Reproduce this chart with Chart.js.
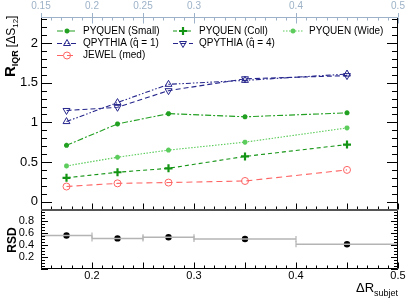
<!DOCTYPE html>
<html>
<head>
<meta charset="utf-8">
<script src="https://cdn.jsdelivr.net/npm/chart.js@4.4.1/dist/chart.umd.min.js"></script>
<style>
  html, body { margin: 0; padding: 0; background: #fff; }
  #wrap { width: 415px; height: 300px; }
</style>
</head>
<body>
<div id="wrap"><canvas id="chart" width="415" height="300"></canvas></div>
<script>
// subjet distance bins (centres and edges)
const dR = [0.175, 0.225, 0.275, 0.35, 0.45];
const binEdges = [0.15, 0.2, 0.25, 0.3, 0.4, 0.5];

// R_IQR per model
const pyquenSmall = [0.71, 0.98, 1.11, 1.07, 1.12];
const pyquenColl  = [0.30, 0.37, 0.42, 0.57, 0.72];
const pyquenWide  = [0.45, 0.56, 0.65, 0.75, 0.93];
const qpythia1    = [1.01, 1.25, 1.48, 1.53, 1.61];
const qpythia4    = [1.15, 1.19, 1.40, 1.55, 1.59];
const jewelMed    = [0.19, 0.23, 0.24, 0.26, 0.40];

// relative standard deviation (lower panel)
const rsd = [0.56, 0.51, 0.53, 0.50, 0.41];

const topTickLabels = [0.15, 0.2, 0.25, 0.3, 0.4, 0.5];
const bottomTickLabels = [0.2, 0.3, 0.4, 0.5];
const rsdTickLabels = [0.2, 0.4, 0.6, 0.8];

const FONT = '"Liberation Sans", Arial, Helvetica, sans-serif';
const green = '#22a022';
const greenDark = '#149414';
const greenLight = '#5ccc5c';
const navy = '#25258c';
const salmon = '#ff6464';
const steel = '#9db2c8';

function pts(ys) {
    return ys.map((v, i) => ({ x: dR[i], y: v }));
}

function lineSet(label, ys, color, dash, style) {
    return Object.assign({
        label: label,
        data: pts(ys),
        yAxisID: 'y',
        borderColor: color,
        backgroundColor: color,
        pointBorderColor: color,
        pointBackgroundColor: color,
        borderWidth: 1.1,
        borderDash: dash,
        pointRadius: 2.5,
        pointBorderWidth: 1.2,
        fill: false,
        tension: 0
    }, style);
}

const datasets = [
    lineSet('PYQUEN (Small)', pyquenSmall, green, [6, 2, 2, 2], { pointStyle: 'star', pointBorderWidth: 1.6 }),
    lineSet('PYQUEN (Coll)', pyquenColl, greenDark, [4, 3], { pointStyle: 'cross', pointRadius: 4, pointBorderWidth: 2.2 }),
    lineSet('PYQUEN (Wide)', pyquenWide, greenLight, [1.5, 1.5], { pointStyle: 'star', pointBorderWidth: 1.6 }),
    lineSet('QPYTHIA (q\u0302 = 1)', qpythia1, navy, [5, 2, 1.5, 2, 1.5, 2], { pointStyle: 'triangle', pointRadius: 4, pointBackgroundColor: 'rgba(0,0,0,0)', pointBorderWidth: 1 }),
    lineSet('QPYTHIA (q\u0302 = 4)', qpythia4, navy, [5, 3], { pointStyle: 'triangle', pointRotation: 180, pointRadius: 4, pointBackgroundColor: 'rgba(0,0,0,0)', pointBorderWidth: 1 }),
    lineSet('JEWEL (med)', jewelMed, salmon, [6, 4], { pointStyle: 'circle', pointRadius: 3.5, pointBackgroundColor: 'rgba(0,0,0,0)', pointBorderWidth: 1 })
];

// horizontal bin-width bars in the RSD panel
rsd.forEach((v, i) => {
    datasets.push({
        label: 'bin' + i,
        data: [{ x: binEdges[i], y: v }, { x: binEdges[i + 1], y: v }],
        yAxisID: 'yR',
        borderColor: '#b4b4b4',
        borderWidth: 1.5,
        pointStyle: 'line',
        pointRotation: 90,
        pointRadius: 3,
        pointBorderColor: '#b4b4b4',
        pointBorderWidth: 1.2
    });
});
datasets.push({
    label: 'RSD',
    data: rsd.map((v, i) => ({ x: dR[i], y: v })),
    yAxisID: 'yR',
    showLine: false,
    pointStyle: 'circle',
    pointRadius: 3.2,
    pointBackgroundColor: '#000',
    pointBorderColor: '#000',
    pointBorderWidth: 0
});

function near(v, list) {
    return list.some(t => Math.abs(t - v) < 1e-6);
}

function drawVTicks(ctx, scale, xl, xr, step, every, lenMaj, lenMin) {
    const k0 = Math.ceil(scale.min / step - 1e-6), k1 = Math.floor(scale.max / step + 1e-6);
    for (let k = k0; k <= k1; k++) {
        const py = Math.round(scale.getPixelForValue(k * step)) + 0.5;
        const len = (k % every === 0) ? lenMaj : lenMin;
        ctx.beginPath();
        ctx.moveTo(xl, py); ctx.lineTo(xl + len, py);
        ctx.moveTo(xr, py); ctx.lineTo(xr - len, py);
        ctx.stroke();
    }
}

function drawHTicks(ctx, scale, y0, dir, step, isMajor, lenMaj, lenMin) {
    const k0 = Math.ceil(scale.min / step - 1e-6), k1 = Math.floor(scale.max / step + 1e-6);
    for (let k = k0; k <= k1; k++) {
        const v = k * step;
        const px = Math.round(scale.getPixelForValue(v)) + 0.5;
        const len = isMajor(v) ? lenMaj : lenMin;
        ctx.beginPath();
        ctx.moveTo(px, y0); ctx.lineTo(px, y0 + dir * len);
        ctx.stroke();
    }
}

const frame = {
    id: 'frame',
    afterDraw(chart) {
        const ctx = chart.ctx;
        const { x, xTop, y, yR } = chart.scales;
        const L = chart.chartArea.left, R = chart.chartArea.right;
        ctx.save();
        ctx.lineWidth = 1;
        ctx.strokeStyle = '#000';

        // ticks on the y axes, inside the frame
        drawVTicks(ctx, y, L, R, 0.1, 5, 11, 6);
        drawVTicks(ctx, yR, L, R, 0.05, 4, 7, 4);

        // x ticks
        const isMaj = v => Math.abs(Math.round(v * 20) - v * 20) < 1e-6;
        drawHTicks(ctx, x, Math.round(y.bottom) - 0.5, -1, 0.01, isMaj, 6, 3);
        drawHTicks(ctx, x, Math.round(yR.bottom) - 0.5, -1, 0.01, isMaj, 6, 3);
        ctx.strokeStyle = steel;
        drawHTicks(ctx, xTop, Math.round(y.top) + 0.5, 1, 0.01, v => near(v, topTickLabels), 6, 3);
        ctx.beginPath();
        topTickLabels.forEach(v => {
            const px = Math.round(xTop.getPixelForValue(v)) + 0.5;
            ctx.moveTo(px, y.top); ctx.lineTo(px, y.top - 4);
        });
        ctx.stroke();

        // frame
        ctx.strokeStyle = '#000';
        ctx.beginPath();
        ctx.moveTo(L + 0.5, Math.round(y.top) + 0.5);
        ctx.lineTo(L + 0.5, Math.round(yR.bottom) - 0.5);
        ctx.lineTo(R - 0.5, Math.round(yR.bottom) - 0.5);
        ctx.lineTo(R - 0.5, Math.round(y.top) + 0.5);
        ctx.stroke();
        ctx.strokeStyle = steel;
        ctx.beginPath();
        ctx.moveTo(L, Math.round(y.top) + 0.5);
        ctx.lineTo(R, Math.round(y.top) + 0.5);
        ctx.stroke();
        ctx.strokeStyle = '#555';
        ctx.lineWidth = 2;
        ctx.beginPath();
        ctx.moveTo(L, Math.round(y.bottom));
        ctx.lineTo(R, Math.round(y.bottom));
        ctx.stroke();

        // legend, built from the dataset styles
        const cols = [57, 173, 283], rows = [31, 43.5, 55.5];
        const slots = [[0, 0], [1, 0], [2, 0], [0, 1], [1, 1], [0, 2]];
        slots.forEach((s, i) => {
            const ds = chart.data.datasets[i];
            const lx = cols[s[0]], ly = rows[s[1]];
            ctx.save();
            ctx.strokeStyle = ds.borderColor;
            ctx.lineWidth = ds.borderWidth;
            ctx.setLineDash(ds.borderDash);
            ctx.beginPath();
            ctx.moveTo(lx, ly); ctx.lineTo(lx + 20, ly);
            ctx.stroke();
            ctx.setLineDash([]);
            ctx.fillStyle = ds.pointBackgroundColor;
            ctx.strokeStyle = ds.pointBorderColor;
            ctx.lineWidth = ds.pointBorderWidth;
            Chart.helpers.drawPoint(ctx, {
                pointStyle: ds.pointStyle,
                rotation: ds.pointRotation || 0,
                radius: ds.pointRadius,
                borderWidth: ds.pointBorderWidth
            }, lx + 10, ly);
            ctx.restore();
            ctx.fillStyle = '#000';
            ctx.font = '10px ' + FONT;
            ctx.textBaseline = 'middle';
            ctx.textAlign = 'left';
            ctx.fillText(ds.label, lx + 26, ly);
        });

        // y title of the upper panel
        ctx.fillStyle = '#000';
        ctx.save();
        ctx.translate(15, 77);
        ctx.rotate(-Math.PI / 2);
        ctx.textBaseline = 'alphabetic';
        let tx = 0;
        ctx.font = 'bold 15px ' + FONT;
        ctx.fillText('R', tx, 0); tx += ctx.measureText('R').width;
        ctx.font = 'bold 9px ' + FONT;
        ctx.fillText('IQR', tx, 3); tx += ctx.measureText('IQR').width + 3;
        ctx.font = '12px ' + FONT;
        ctx.fillText('[\u0394S', tx, 0); tx += ctx.measureText('[\u0394S').width;
        ctx.font = '8px ' + FONT;
        ctx.fillText('12', tx, 3); tx += ctx.measureText('12').width;
        ctx.font = '12px ' + FONT;
        ctx.fillText(']', tx, 0);
        ctx.restore();

        // y title of the lower panel
        ctx.save();
        ctx.translate(16, (yR.top + yR.bottom) / 2 + 1);
        ctx.rotate(-Math.PI / 2);
        ctx.font = 'bold 12px ' + FONT;
        ctx.textAlign = 'center';
        ctx.textBaseline = 'alphabetic';
        ctx.fillText('RSD', 0, 0);
        ctx.restore();

        // x title
        ctx.font = '13px ' + FONT;
        ctx.textAlign = 'left';
        ctx.textBaseline = 'alphabetic';
        ctx.fillText('\u0394R', 356, 292);
        const w = ctx.measureText('\u0394R').width;
        ctx.font = '9px ' + FONT;
        ctx.fillText('subjet', 356 + w, 296);
        ctx.restore();
    }
};

const noGrid = { display: false, drawTicks: false };

new Chart(document.getElementById('chart').getContext('2d'), {
    type: 'line',
    data: { datasets: datasets },
    options: {
        responsive: false,
        animation: false,
        devicePixelRatio: 1,
        layout: { padding: { left: 0, right: 17, top: 0, bottom: 0 } },
        plugins: { legend: { display: false }, tooltip: { enabled: false } },
        elements: { line: { tension: 0 } },
        scales: {
            x: {
                type: 'linear', position: 'bottom', min: 0.15, max: 0.5,
                grid: noGrid, border: { display: false },
                afterFit: s => { s.height = 31.5; },
                ticks: {
                    stepSize: 0.1, autoSkip: false, includeBounds: false, padding: 1,
                    maxRotation: 0, minRotation: 0,
                    color: '#000', font: { family: FONT, size: 11 },
                    callback: v => near(v, bottomTickLabels) ? String(Math.round(v * 10) / 10) : ''
                }
            },
            xTop: {
                type: 'linear', position: 'top', min: 0.15, max: 0.5,
                grid: noGrid, border: { display: false },
                afterFit: s => { s.height = 17; },
                ticks: {
                    stepSize: 0.05, autoSkip: false, includeBounds: false, padding: 5,
                    maxRotation: 0, minRotation: 0,
                    color: steel, font: { family: FONT, size: 10 },
                    callback: v => near(v, topTickLabels) ? String(Math.round(v * 100) / 100) : ''
                }
            },
            yR: {
                type: 'linear', position: 'left', stack: 'panels', stackWeight: 59,
                min: 0, max: 1,
                grid: noGrid, border: { display: false },
                afterFit: s => { s.width = 41; },
                ticks: {
                    stepSize: 0.2, autoSkip: false, includeBounds: false, padding: 7,
                    color: '#000', font: { family: FONT, size: 11 },
                    callback: v => near(v, rsdTickLabels) ? String(Math.round(v * 10) / 10) : ''
                }
            },
            y: {
                type: 'linear', position: 'left', stack: 'panels', stackWeight: 192.5,
                min: -0.1, max: 2.33,
                grid: noGrid, border: { display: false },
                afterFit: s => { s.width = 41; },
                ticks: {
                    stepSize: 0.5, autoSkip: false, includeBounds: false, padding: 3,
                    color: '#000', font: { family: FONT, size: 13 },
                    callback: v => String(Math.round(v * 10) / 10)
                }
            }
        }
    },
    plugins: [frame]
});
</script>
</body>
</html>
